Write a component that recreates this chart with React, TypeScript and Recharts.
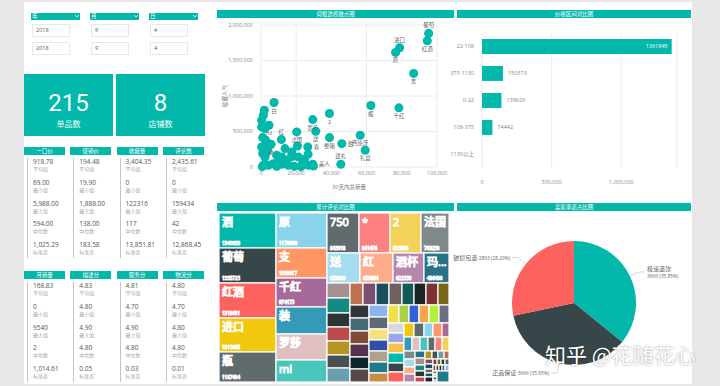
import React from 'react';
import {
  ScatterChart,
  Scatter,
  XAxis,
  YAxis,
  ZAxis,
  CartesianGrid,
  LabelList,
  Label,
  BarChart,
  Bar,
  Treemap,
  PieChart,
  Pie,
  Cell,
} from 'recharts';

const TEAL = '#01B8AA';
const FONT = '"Segoe UI", "Open Sans", "Noto Sans CJK SC", sans-serif';

// date slicers
const sliceHeaders = ['年', '月', '日'];
const sliceFrom = ['2018', '9', '4'];
const sliceTo = ['2018', '9', '4'];

// kpi cards
const kpiValues = ['215', '8'];
const kpiLabels = ['单品数', '店铺数'];

// summary tables
const statNames = ['平均值', '最小值', '最大值', '中位数', '标准差'];
const priceHeaders = ['一口价', '促销价', '收藏量', '评论数'];
const priceStats = [
  ['918.78', '69.00', '5,988.00', '594.00', '1,025.29'],
  ['194.48', '19.90', '1,888.00', '138.00', '183.58'],
  ['3,404.35', '0', '122316', '117', '13,851.81'],
  ['2,435.61', '0', '159434', '42', '12,868.45'],
];
const scoreHeaders = ['月销量', '描述分', '服务分', '物流分'];
const scoreStats = [
  ['168.83', '0', '9540', '2', '1,014.61'],
  ['4.83', '4.80', '4.90', '4.80', '0.05'],
  ['4.81', '4.70', '4.90', '4.80', '0.03'],
  ['4.80', '4.70', '4.80', '4.80', '0.01'],
];

// scatter: word -> 30 day sales / favourites
const wordNames = [
  '葡萄', '红酒', '进口', '原', '支', '千红', '瓶', '2', '罗莎', '送',
  '整箱', '西班牙', '礼盒', '甜', '送礼', '法国', '红', '', '春', '',
  '美人', '白', '', '', 'ml', '', '', '冰', '', '',
  '', '', '', '', '', '', '', '', '', '',
  '', '', '', '', '', '', '', '', '', '',
  '', '', '', '', '', '', '',
];
const wordSales = [
  95250, 94500, 78750, 76470, 86720, 78370, 62430, 38900, 29410, 31120,
  38900, 56360, 59200, 45920, 45350, 20300, 11570, 20680, 26570, 26760,
  29410, 7400, 1900, 1330, 4550, 2280, 950, 5690, 13660, 17080,
  14040, 10060, 7020, 4170, 2280, 3230, 380, 1330, 760, 8920,
  11760, 15560, 18980, 23530, 26950, 24670, 29790, 22770, 380, 380,
  950, 2660, 4170, 8920, 11760, 21250, 17460,
];
const wordFavs = [
  1882000, 1779000, 1680000, 1614000, 1318000, 833000, 866000, 753000, 668000, 504000,
  414000, 447000, 235000, 329000, 38000, 494000, 386000, 296000, 282000, 179000,
  38000, 908000, 800000, 729000, 588000, 541000, 414000, 320000, 259000, 141000,
  94000, 71000, 47000, 24000, 141000, 212000, 282000, 24000, 5000, 9000,
  38000, 24000, 9000, 47000, 24000, 104000, 14000, 5000, 659000, 565000,
  188000, 376000, 282000, 165000, 141000, 141000, 212000,
];
// words whose label sits above / to the right of the dot
const labelsAbove = ['葡萄', '进口', '红', '送礼'];
const labelsRight = ['美人', '春', '甜'];

// price ranges
const priceRanges = ['22-108', '375-1130', '0-22', '108-375', '1130以上'];
const priceCounts = [1361845, 150373, 139626, 74442, 0];

// treemap: accumulated comments per word
const treeNames = [
  '酒', '葡萄', '红酒', '进口', '瓶', '原', '支', '千红', '装', '罗莎', 'ml',
  '750', '*', '2', '法国', '送', '红', '酒杯', '玛格丽特', '整箱', '白', '西班牙',
];
const treeValues = [
  1340033, 1335725, 1319681, 1311065, 1187404, 1179960, 1019617, 974175, 905000, 880000, 860000,
  843018, 841476, 823985, 768230, 659103, 653664, 622138, 486400, 235000, 225000, 220000,
];
const otherWordValues = [
  215000, 210000, 206000, 202000, 198000, 194000, 190000, 186000, 182000, 178000,
  174000, 171000, 168000, 165000, 162000, 159000, 156000, 153000, 150000, 147000,
  144000, 141000, 138000, 135000, 132000, 129000, 126000, 123000, 120000, 117000,
  114000, 111000, 108000, 105000, 102000, 99000, 96000, 93000, 90000, 87000,
  84000, 81000, 78000, 75000, 72000, 69000, 66000, 63000, 60000, 57000,
  54000, 51000, 48000, 45000, 42000, 40000, 38000, 36000, 34000, 32000,
  30000, 28000, 26000, 24000, 22000, 20000, 18000, 17000, 16000, 15000,
  14000, 13000, 12000, 11000, 10000, 9000, 8000, 7000, 6000, 5000,
];

// seller promises
const promiseNames = ['极速退款', '正品保证', '破损包退'];
const promiseCounts = [3666, 3666, 2893];

const palette = [
  '#01B8AA', '#374649', '#FD625E', '#F2C80F', '#5F6B6D', '#8AD4EB', '#FE9666', '#A66999',
  '#3599B8', '#DFBFBF', '#4AC5BB', '#5F6B6D', '#FB8281', '#F4D25A', '#7F898A', '#A4DDEE',
  '#FDAB89', '#B687AC', '#28738A', '#A78F8F', '#168980', '#293537', '#BB4A4A', '#B59525',
  '#475052', '#6A9FB0', '#BD7150', '#7B4F71', '#1B4D5C', '#706060', '#0F5C55', '#1C2325',
  '#7D3231', '#796419', '#303638', '#476A75', '#7E4B36', '#52354C', '#0D262E', '#544848',
  '#8AB6F0', '#5E6A78', '#F9E07A', '#2F4FA8', '#B0A08C', '#1F7A8C', '#C98B45', '#F0E14A',
  '#A9D046', '#2E62D9', '#F6A54B', '#B3F03A', '#6B6F80', '#D9D9D9', '#9AA8E8', '#F7C24A',
];

const scatterData = wordNames.map((name, i) => ({ name, x: wordSales[i], y: wordFavs[i] }));
const priceData = priceRanges.map((name, i) => ({ name, count: priceCounts[i] }));
const treeData = [
  ...treeNames.map((name, i) => ({ name, size: treeValues[i] })),
  ...otherWordValues.map((size) => ({ name: '', size })),
];
const promiseData = promiseNames.map((name, i) => ({ name, value: promiseCounts[i] }));

const fmt = (v: number) => v.toLocaleString('en-US');
const axisTick = { fontSize: 5.5, fill: '#888' };

function TitleBar({ left, top, width, text }: { left: number; top: number; width: number; text: string }) {
  return (
    <div
      style={{
        position: 'absolute', left, top, width, height: 8, background: TEAL, color: '#fff',
        fontSize: 5.5, lineHeight: '8px', textAlign: 'center',
      }}
    >
      {text}
    </div>
  );
}

function StatTable({ top, headers, values }: { top: number; headers: string[]; values: string[][] }) {
  return (
    <>
      {headers.map((h, c) => {
        const left = 24 + c * 46.3;
        return (
          <React.Fragment key={h}>
            <div
              style={{
                position: 'absolute', left, top, width: 41, height: 8, background: TEAL, color: '#fff',
                fontSize: 5.5, lineHeight: '8px', textAlign: 'center',
              }}
            >
              {h}
            </div>
            <div style={{ position: 'absolute', left: left + 3, top: top + 11, width: 1.2, height: 100, background: '#c4c4c4' }} />
            {statNames.map((s, r) => (
              <React.Fragment key={s}>
                <div
                  style={{
                    position: 'absolute', left: left + 9, top: top + 11 + r * 20.75, fontSize: 6.5,
                    lineHeight: '8px', color: '#555', whiteSpace: 'nowrap',
                  }}
                >
                  {values[c][r]}
                </div>
                <div
                  style={{
                    position: 'absolute', left: left + 9, top: top + 19 + r * 20.75, fontSize: 5,
                    lineHeight: '7px', color: '#aaa', whiteSpace: 'nowrap',
                  }}
                >
                  {s}
                </div>
              </React.Fragment>
            ))}
          </React.Fragment>
        );
      })}
    </>
  );
}

function WordLabel(props: any) {
  const { x, y, width, height, value } = props;
  if (!value) return null;
  const cx = x + width / 2;
  if (labelsRight.includes(value)) {
    return (
      <text x={x + width + 1.5} y={y + height / 2 + 2} fontSize={5.5} fill="#666">
        {value}
      </text>
    );
  }
  const above = labelsAbove.includes(value);
  return (
    <text x={cx} y={above ? y - 1.5 : y + height + 5.5} textAnchor="middle" fontSize={5.5} fill="#666">
      {value}
    </text>
  );
}

function BarValueLabel(props: any) {
  const { x, y, width, height, value } = props;
  const inside = width > 60;
  return (
    <text
      x={inside ? x + width - 4 : x + width + 5}
      y={y + height / 2}
      dy={2}
      textAnchor={inside ? 'end' : 'start'}
      fontSize={5.5}
      fill={inside ? '#fff' : '#888'}
    >
      {value}
    </text>
  );
}

const textWidth = (s: string) =>
  Array.from(s).reduce((w, ch) => w + (ch.charCodeAt(0) > 255 ? 11 : 6.3), 0);

function TreeCell(props: any) {
  const { x, y, width, height, index, depth, name, value } = props;
  if (depth !== 1) return null;
  const fill = palette[index % palette.length];
  let label = '';
  if (name && width > 16 && height > 16) {
    label = textWidth(name) > width - 4 ? `${name.slice(0, 1)}...` : name;
  }
  const showValue = name && width > 22 && height > 28;
  return (
    <g>
      <rect x={x} y={y} width={width} height={height} fill={fill} stroke="#fff" strokeWidth={1.2} />
      {label && (
        <text x={x + 3} y={y + 13} fill="#fff" fontSize={11} fontFamily={FONT}>
          {label}
        </text>
      )}
      {showValue && (
        <text x={x + 3} y={y + height - 3} fill="#fff" fillOpacity={0.85} fontSize={4.5}>
          {value}
        </text>
      )}
    </g>
  );
}

const RAD = Math.PI / 180;
function renderPromiseLabel(p: any) {
  const { cx, cy, midAngle, outerRadius, name, value, percent } = p;
  const cos = Math.cos(-midAngle * RAD);
  const sin = Math.sin(-midAngle * RAD);
  const sx = cx + outerRadius * cos;
  const sy = cy + outerRadius * sin;
  const mx = cx + (outerRadius + 10) * cos;
  const my = cy + (outerRadius + 10) * sin;
  const right = cos >= 0;
  const ex = mx + (right ? 6 : -6);
  const tail = `${value} (${(percent * 100).toFixed(2)}%)`;
  return (
    <g>
      <path d={`M${sx},${sy}L${mx},${my}L${ex},${my}`} stroke="#bbb" strokeWidth={0.6} fill="none" />
      {right ? (
        <text x={ex + 2} y={my} fill="#666" fontSize={6}>
          <tspan x={ex + 2} dy={-1}>{name}</tspan>
          <tspan x={ex + 2} dy={7} fontSize={4.8}>{tail}</tspan>
        </text>
      ) : (
        <text x={ex - 2} y={my + 2} textAnchor="end" fill="#666" fontSize={6}>
          {name} <tspan fontSize={4.8}>{tail}</tspan>
        </text>
      )}
    </g>
  );
}

export default function App() {
  return (
    <div
      style={{
        position: 'absolute', left: 0, top: 0, width: 720, height: 386, background: '#e8e8e8',
        fontFamily: FONT, overflow: 'hidden',
      }}
    >
      <div style={{ position: 'absolute', left: 24, top: 2, width: 668, height: 382, background: '#fff' }} />

      {/* date slicers */}
      {sliceHeaders.map((h, i) => {
        const left = 31 + i * 59;
        return (
          <React.Fragment key={h}>
            <div
              style={{
                position: 'absolute', left, top: 13, width: 49, height: 7, background: TEAL, color: '#fff',
                fontSize: 5.5, lineHeight: '7px', paddingLeft: 1, boxSizing: 'border-box',
              }}
            >
              {h}
              <svg width={4} height={3} style={{ position: 'absolute', right: 1, top: 2 }}>
                <polyline points="0,0 2,2 4,0" fill="none" stroke="#fff" strokeWidth={0.7} />
              </svg>
            </div>
            {[sliceFrom[i], sliceTo[i]].map((v, r) => (
              <div
                key={r}
                style={{
                  position: 'absolute', left: left + 1, top: 24 + r * 18, width: 38, height: 13,
                  border: '1px solid #e8e8e8', boxSizing: 'border-box', fontSize: 5.5, lineHeight: '11px',
                  color: '#555', paddingLeft: 3,
                }}
              >
                {v}
              </div>
            ))}
          </React.Fragment>
        );
      })}

      {/* kpi cards */}
      {kpiValues.map((v, i) => (
        <div
          key={i}
          style={{
            position: 'absolute', left: 24 + i * 92, top: 74, width: 89, height: 62, background: TEAL,
            color: '#fff', textAlign: 'center',
          }}
        >
          <div style={{ position: 'absolute', left: 0, right: 0, top: 14, fontSize: 24, lineHeight: '30px', fontFamily: 'Roboto, sans-serif' }}>
            {v}
          </div>
          <div style={{ position: 'absolute', left: 0, right: 0, top: 44, fontSize: 8, lineHeight: '11px' }}>
            {kpiLabels[i]}
          </div>
        </div>
      ))}

      <StatTable top={147} headers={priceHeaders} values={priceStats} />
      <StatTable top={271} headers={scoreHeaders} values={scoreStats} />

      {/* scatter */}
      <TitleBar left={217} top={10} width={237} text="词根透视散点图" />
      <div style={{ position: 'absolute', left: 217, top: 18 }}>
        <ScatterChart width={238} height={181} margin={{ top: 7, right: 18, bottom: 11, left: 0 }}>
          <CartesianGrid stroke="#ececec" />
          <XAxis
            type="number"
            dataKey="x"
            domain={[0, 100000]}
            ticks={[0, 20000, 40000, 60000, 80000, 100000]}
            tickFormatter={fmt}
            tick={axisTick}
            tickLine={false}
            tickSize={2}
            axisLine={false}
            height={21}
          >
            <Label value="30天内总销量" position="insideBottom" offset={-1} fontSize={5.5} fill="#777" />
          </XAxis>
          <YAxis
            type="number"
            dataKey="y"
            domain={[0, 2000000]}
            ticks={[0, 500000, 1000000, 1500000, 2000000]}
            tickFormatter={fmt}
            tick={axisTick}
            tickLine={false}
            axisLine={false}
            width={44}
          >
            <Label value="收藏人气" angle={-90} position="insideLeft" offset={8} fontSize={5.5} fill="#777" style={{ textAnchor: 'middle' }} />
          </YAxis>
          <ZAxis range={[42, 42]} />
          <Scatter data={scatterData} fill={TEAL} isAnimationActive={false}>
            <LabelList dataKey="name" content={<WordLabel />} />
          </Scatter>
        </ScatterChart>
      </div>

      {/* price ranges */}
      <TitleBar left={457} top={10} width={234} text="价格区间对比图" />
      <div style={{ position: 'absolute', left: 440, top: 18 }}>
        <BarChart width={252} height={172} data={priceData} layout="vertical" margin={{ top: 15, right: 15, bottom: 0, left: 0 }} barCategoryGap="22%">
          <CartesianGrid horizontal={false} stroke="#ececec" />
          <XAxis
            type="number"
            domain={[0, 1400000]}
            ticks={[0, 500000, 1000000]}
            tickFormatter={fmt}
            tick={axisTick}
            tickLine={false}
            tickMargin={6}
            axisLine={false}
            height={22}
          />
          <YAxis type="category" dataKey="name" tick={axisTick} tickLine={false} axisLine={false} width={42} />
          <Bar dataKey="count" fill={TEAL} isAnimationActive={false}>
            <LabelList dataKey="count" content={<BarValueLabel />} />
          </Bar>
        </BarChart>
      </div>

      {/* treemap */}
      <TitleBar left={217} top={203} width={237} text="累计评论对比图" />
      <div style={{ position: 'absolute', left: 219, top: 213 }}>
        <Treemap
          width={230}
          height={169}
          data={treeData}
          dataKey="size"
          nameKey="name"
          stroke="#fff"
          isAnimationActive={false}
          content={<TreeCell />}
        />
      </div>

      {/* seller promises */}
      <TitleBar left={457} top={203} width={234} text="卖家承诺占比图" />
      <div style={{ position: 'absolute', left: 440, top: 212 }}>
        <PieChart width={252} height={172}>
          <Pie
            data={promiseData}
            dataKey="value"
            nameKey="name"
            cx={129}
            cy={86}
            outerRadius={62}
            startAngle={90}
            endAngle={-270}
            stroke="none"
            isAnimationActive={false}
            label={renderPromiseLabel}
            labelLine={false}
          >
            {promiseData.map((d, i) => (
              <Cell key={d.name} fill={['#01B8AA', '#374649', '#FD625E'][i]} />
            ))}
          </Pie>
        </PieChart>
      </div>

      {/* watermark */}
      <div
        style={{
          position: 'absolute', left: 545, top: 341, fontSize: 21, lineHeight: '26px', color: '#fff',
          fontFamily: '"Noto Sans CJK SC", sans-serif', whiteSpace: 'nowrap',
          textShadow: '0 0 2px rgba(0,0,0,0.45)',
        }}
      >
        知乎 @花随花心
      </div>
    </div>
  );
}
